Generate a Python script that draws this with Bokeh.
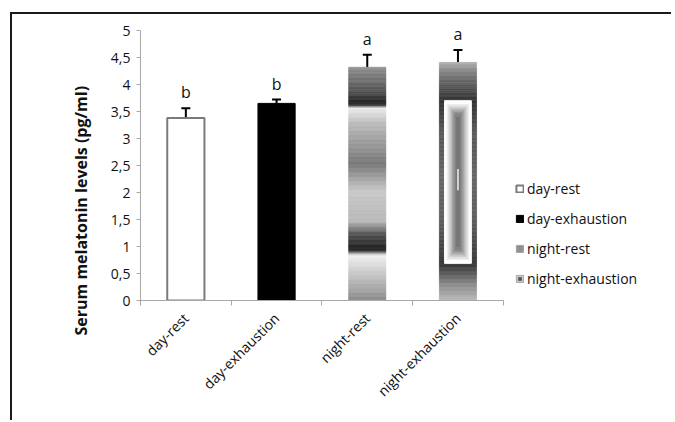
import numpy as np
from bokeh.plotting import figure
from bokeh.models import (FixedTicker, Legend, LegendItem, Whisker, ColumnDataSource,
                          TeeHead, Range1d, Title)
from bokeh.core.properties import value
from bokeh.embed import file_html
from bokeh.resources import INLINE

# ---------------- data ----------------
groups = ["day-rest", "day-exhaustion", "night-rest", "night-exhaustion"]
means = [3.38, 3.65, 4.32, 4.41]
err_upper = [3.56, 3.72, 4.55, 4.64]
letters = ["b", "b", "a", "a"]
y_ticks = [0, 0.5, 1, 1.5, 2, 2.5, 3, 3.5, 4, 4.5, 5]
y_tick_labels = ["0", "0,5", "1", "1,5", "2", "2,5", "3", "3,5", "4", "4,5", "5"]
y_title = "Serum melatonin levels (pg/ml)"

# ---------------- style ----------------
FONT = "Open Sans"
BAR_W = 0.41
AX_COL = "#a8a8a8"
X_EXTRA = 1.7   # extra empty x-range on the right that hosts the legend
NAN = float("nan")

# gradient stops (fraction of bar height, grey level)
night_rest_stops = [(0.0, 0x8a), (0.116, 0xc8), (0.195, 0xf0), (0.215, 0x30), (0.227, 0x22),
                    (0.287, 0x55), (0.34, 0xb8), (0.47, 0xc8), (0.587, 0x78), (0.76, 0xbb),
                    (0.827, 0xee), (0.838, 0x30), (0.849, 0x22), (0.90, 0x55), (1.0, 0x90)]
night_ex_stops = [(0.0, 0xb8), (0.063, 0x90), (0.126, 0x50), (0.155, 0x33), (0.3, 0x58),
                  (0.5, 0x66), (0.7, 0x58), (0.839, 0x33), (0.90, 0x55), (0.966, 0x88), (1.0, 0xb0)]
inner_bounds = (0.156, 0.839)     # fraction of bar height for the white inner panel
inner_rel_w = 0.72
# horizontal profile of the inner panel: (rel width, grey, vertical inset frac)
inner_nest = [(0.84, 0xee, 0.02), (0.74, 0xde, 0.03), (0.64, 0xcc, 0.04), (0.54, 0xb8, 0.05),
              (0.44, 0xa4, 0.06), (0.34, 0x92, 0.07), (0.24, 0x82, 0.08), (0.14, 0x76, 0.10)]


def gray(g):
    return "#%02x%02x%02x" % (g, g, g)


def grad_slices(x, top, stops, n=180):
    f = np.linspace(0, 1, n + 1)
    mid = (f[:-1] + f[1:]) / 2
    fs, gs = zip(*stops)
    g = np.interp(mid, fs, gs).round().astype(int)
    return dict(x=[x] * n, bottom=list(f[:-1] * top), top=list(f[1:] * top),
                color=[gray(int(v)) for v in g])


xs = [i + 0.5 for i in range(len(groups))]

p = figure(width=661, height=408, x_range=Range1d(0, len(groups) + X_EXTRA),
           y_range=Range1d(0, 5),
           output_backend="svg", toolbar_location=None,
           min_border_left=128, min_border_top=16, min_border_right=16, min_border_bottom=122)
p.styles = {"border-top": "2px solid #1a1a1a", "border-left": "2px solid #1a1a1a",
            "margin-left": "10px", "margin-top": "12px"}
p.outline_line_color = None
p.xgrid.visible = False
p.ygrid.visible = False

# day-rest
r0 = p.vbar(x=[xs[0]], top=[means[0]], width=BAR_W, fill_color="white",
            line_color="#7a7a7a", line_width=2)
# day-exhaustion
r1 = p.vbar(x=[xs[1]], top=[means[1]], width=BAR_W, fill_color="black", line_color="black")
# night-rest gradient
nr = ColumnDataSource(grad_slices(xs[2], means[2], night_rest_stops))
p.vbar(x="x", bottom="bottom", top="top", width=BAR_W, fill_color="color",
       line_color="color", line_width=0.6, source=nr)
# night-exhaustion gradient + inner panel
ne = ColumnDataSource(grad_slices(xs[3], means[3], night_ex_stops))
p.vbar(x="x", bottom="bottom", top="top", width=BAR_W, fill_color="color",
       line_color="color", line_width=0.6, source=ne)
ib, it = means[3] * inner_bounds[0], means[3] * inner_bounds[1]
p.vbar(x=[xs[3]], bottom=[ib], top=[it], width=BAR_W * inner_rel_w,
       fill_color="#fdfdfd", line_color="#ffffff", line_width=1)
for rw, g, inset in inner_nest:
    h = it - ib
    p.vbar(x=[xs[3]], bottom=[ib + h * inset], top=[it - h * inset],
           width=BAR_W * inner_rel_w * rw, fill_color=gray(g), line_color=None)
p.vbar(x=[xs[3]], bottom=[ib + (it - ib) * 0.45], top=[ib + (it - ib) * 0.58],
       width=BAR_W * 0.05, fill_color="#d8d8d8", line_color=None)

# error bars (upper whisker only)
esrc = ColumnDataSource(dict(x=xs, lower=means, upper=err_upper))
p.add_layout(Whisker(source=esrc, base="x", lower="lower", upper="upper", dimension="height",
                     line_width=2, line_color="black",
                     upper_head=TeeHead(size=9, line_width=2, line_color="black"),
                     lower_head=None))

# significance letters
p.text(x=xs, y=err_upper, text=letters, text_align="center", text_baseline="bottom",
       y_offset=-5, text_font=value(FONT), text_font_size="16px", text_color="#111111")

# legend-only renderers (no visible data)
lg2 = p.vbar(x=[NAN], top=[NAN], width=BAR_W, fill_color="#909090", line_color="#a4a4a4")
lg3 = p.vbar(x=[NAN], top=[NAN], width=BAR_W, fill_color="#c6c6c6", line_color="#a8a8a8")
lg3d = p.scatter(x=[NAN], y=[NAN], marker="square", size=3, fill_color="#555555",
                 line_color=None)
legend = Legend(items=[LegendItem(label=groups[0], renderers=[r0]),
                       LegendItem(label=groups[1], renderers=[r1]),
                       LegendItem(label=groups[2], renderers=[lg2]),
                       LegendItem(label=groups[3], renderers=[lg3, lg3d])],
                location=(375, 12), orientation="vertical")
legend.border_line_color = None
legend.background_fill_alpha = 0
legend.padding = 0
legend.margin = 0
legend.spacing = 10
legend.glyph_width = 9
legend.glyph_height = 9
legend.label_height = 20
legend.label_standoff = 3
legend.label_text_font = FONT
legend.label_text_font_size = "14px"
legend.label_text_color = "#111111"
p.add_layout(legend)

# axes
p.xaxis.bounds = (0, len(groups))
p.xaxis.ticker = FixedTicker(ticks=xs, minor_ticks=list(range(len(groups) + 1)))
p.xaxis.major_label_overrides = {x: g for x, g in zip(xs, groups)}
p.xaxis.major_label_orientation = np.pi / 4
p.xaxis.major_tick_in = 0
p.xaxis.major_tick_out = 0
p.xaxis.minor_tick_in = 0
p.xaxis.minor_tick_out = 5
p.xaxis.minor_tick_line_color = AX_COL
p.xaxis.axis_line_color = AX_COL
p.xaxis.major_label_standoff = 10

p.yaxis.ticker = FixedTicker(ticks=y_ticks, minor_ticks=[])
p.yaxis.major_label_overrides = {t: l for t, l in zip(y_ticks, y_tick_labels)}
p.yaxis.major_tick_in = 0
p.yaxis.major_tick_out = 4
p.yaxis.major_tick_line_color = AX_COL
p.yaxis.axis_line_color = AX_COL
p.yaxis.major_label_standoff = 6

for ax in (p.xaxis, p.yaxis):
    ax.major_label_text_font = FONT
    ax.major_label_text_font_size = "14px"
    ax.major_label_text_color = "#111111"

# y-axis title (side title, anchored at its start so it can sit lower than the frame)
yt = Title(text=y_title, align="left", offset=-35, standoff=32,
           text_font=FONT, text_font_style="bold", text_font_size="16px",
           text_color="#111111")
p.add_layout(yt, "left")

open("out.html", "w").write(file_html(p, INLINE))
